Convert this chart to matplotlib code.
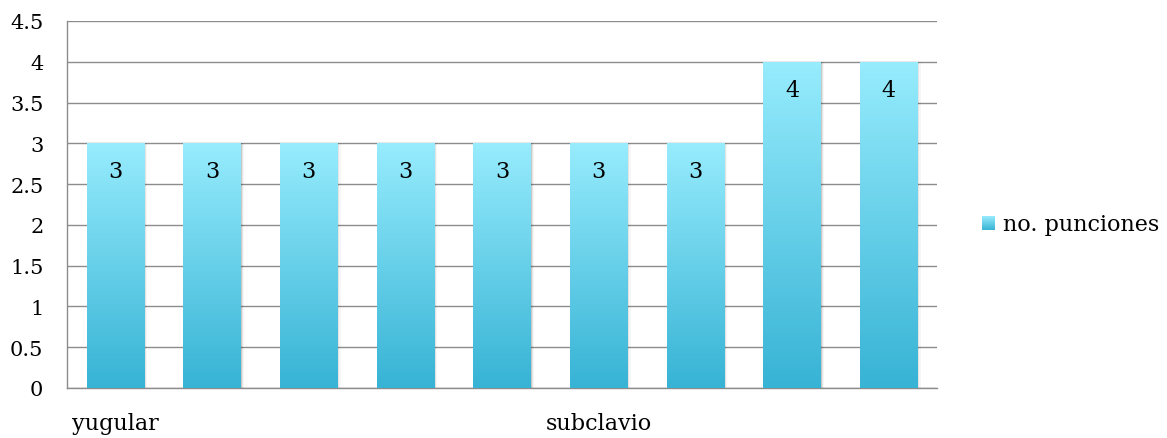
import numpy as np
import matplotlib
matplotlib.use("Agg")
import matplotlib.pyplot as plt
from matplotlib.colors import LinearSegmentedColormap
from matplotlib.patches import Rectangle

# Data
categories = ["yugular", "", "", "", "", "subclavio", "", "", ""]
values = [3, 3, 3, 3, 3, 3, 3, 4, 4]
series_name = "no. punciones"
y_ticks = [0, 0.5, 1, 1.5, 2, 2.5, 3, 3.5, 4, 4.5]
y_tick_labels = ["0", "0.5", "1", "1.5", "2", "2.5", "3", "3.5", "4", "4.5"]

plt.rcParams["font.family"] = ["DejaVu Serif"]

top_color = "#97ecfd"
bottom_color = "#37b3d5"
grad_cmap = LinearSegmentedColormap.from_list("bar_grad", [bottom_color, top_color])

fig = plt.figure(figsize=(11.67, 4.39), dpi=100)
ax = fig.add_axes([0.0574, 0.1139, 0.7455, 0.836])

x = np.arange(len(values))
width = 0.59

# Gridlines and axes styling
ax.set_yticks(y_ticks)
ax.set_yticklabels(y_tick_labels, fontsize=15)
ax.yaxis.grid(True, color="#8c8c8c", linewidth=1.0)
ax.set_axisbelow(True)
ax.tick_params(axis="y", length=0, pad=17)
ax.tick_params(axis="x", length=0, pad=17)

for side in ["top", "right"]:
    ax.spines[side].set_visible(False)
for side in ["left", "bottom"]:
    ax.spines[side].set_color("#8c8c8c")
    ax.spines[side].set_linewidth(1.0)

gradient = np.linspace(0, 1, 256).reshape(-1, 1)
bars = ax.bar(x, values, width=width, color="none", edgecolor="none", zorder=3)
for xi, v, bar in zip(x, values, bars):
    # soft shadow on the right side
    for k, a in enumerate([0.12, 0.07, 0.035]):
        ax.add_patch(Rectangle((xi - width / 2 + 0.012 * (k + 1), 0), width, v,
                               facecolor="black", alpha=a, edgecolor="none", zorder=2.5))
    im = ax.imshow(gradient, cmap=grad_cmap, aspect="auto", origin="lower",
                   extent=(xi - width / 2, xi + width / 2, 0, v), zorder=3,
                   interpolation="bilinear")
    im.set_clip_path(bar)
    ax.annotate(str(v), (xi, v), xytext=(0, -20), textcoords="offset points",
                ha="center", va="center", fontsize=16, color="black", zorder=4)

ax.set_xticks(x)
ax.set_xticklabels(categories, fontsize=16)
ax.set_ylim(0, 4.5)
ax.set_xlim(-0.5, len(values) - 0.5)

# Legend
lax = fig.add_axes([982 / 1167, 1 - 231 / 439, 13 / 1167, 14 / 439])
lax.imshow(gradient, cmap=grad_cmap, aspect="auto", origin="lower")
lax.axis("off")
fig.text(1003 / 1167, 1 - 225 / 439, series_name, fontsize=16, va="center", ha="left")

fig.savefig("out.png", dpi=100)
